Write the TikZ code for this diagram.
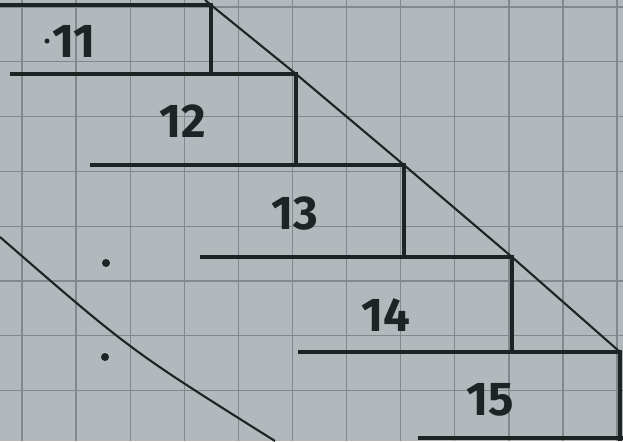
\documentclass[tikz,border=0pt]{standalone}
\usepackage{fontspec}
\setsansfont{Fira Sans}
\usepackage{tikz}
\usetikzlibrary{calc}

\definecolor{paper}{RGB}{178,185,188}
\definecolor{gridgrey}{RGB}{130,137,142}
\definecolor{ink}{RGB}{30,36,36}

\begin{document}
\begin{tikzpicture}[x=0.02cm,y=-0.02cm] % 1 unit = 1 pixel of the photo
      % Paper and bounding box
      \fill[paper] (0,0) rectangle (623,441);
      \useasboundingbox (0,0) rectangle (623,441);

      % Squared paper
      \foreach \k in {0,...,11}
        \draw[gridgrey, line width=0.7pt] ({22+54.1*\k},0) -- ({22+54.1*\k},441);
      \foreach \k in {0,...,7}
        \draw[gridgrey, line width=0.7pt] (0,{7+54.8*\k}) -- (623,{7+54.8*\k});

      % Corners of the steps
      \coordinate (A) at (211,5);
      \coordinate (B) at (296,74);
      \coordinate (C) at (404,165);
      \coordinate (D) at (512,257);
      \coordinate (E) at (620,352);

      % Draw the steps
      \draw[ink, line width=2.3pt] (0,5) -- (A) -- (211,74);
      \draw[ink, line width=2.3pt] (10,74) -- (B) -- (296,165);
      \draw[ink, line width=2.3pt] (90,165) -- (C) -- (404,257);
      \draw[ink, line width=2.3pt] (200,257) -- (D) -- (512,352);
      \draw[ink, line width=2.3pt] (298,352) -- (E) -- (620,441);
      \draw[ink, line width=2.3pt] (418,438) -- (623,438);

      % Slanted lines
      \draw[ink, line width=1.2pt] (205,0) -- (A) -- (B) -- (C) -- (D) -- (E);
      \draw[ink, line width=1.2pt] (0,237) .. controls (130,350) .. (275,441);

      % Dots
      \fill[ink] (47,41) circle (2.5);
      \fill[ink] (106,263) circle (4);
      \fill[ink] (105,357) circle (4);

      % Step numbers
      \tikzset{stepnum/.style={ink, font=\sffamily\bfseries\fontsize{27}{27}\selectfont}}
      \node[stepnum] at (74,41) {11};
      \node[stepnum] at (183,121) {12};
      \node[stepnum] at (295,214) {13};
      \node[stepnum] at (386,315) {14};
      \node[stepnum] at (490,400) {15};

    \end{tikzpicture}
\end{document}
